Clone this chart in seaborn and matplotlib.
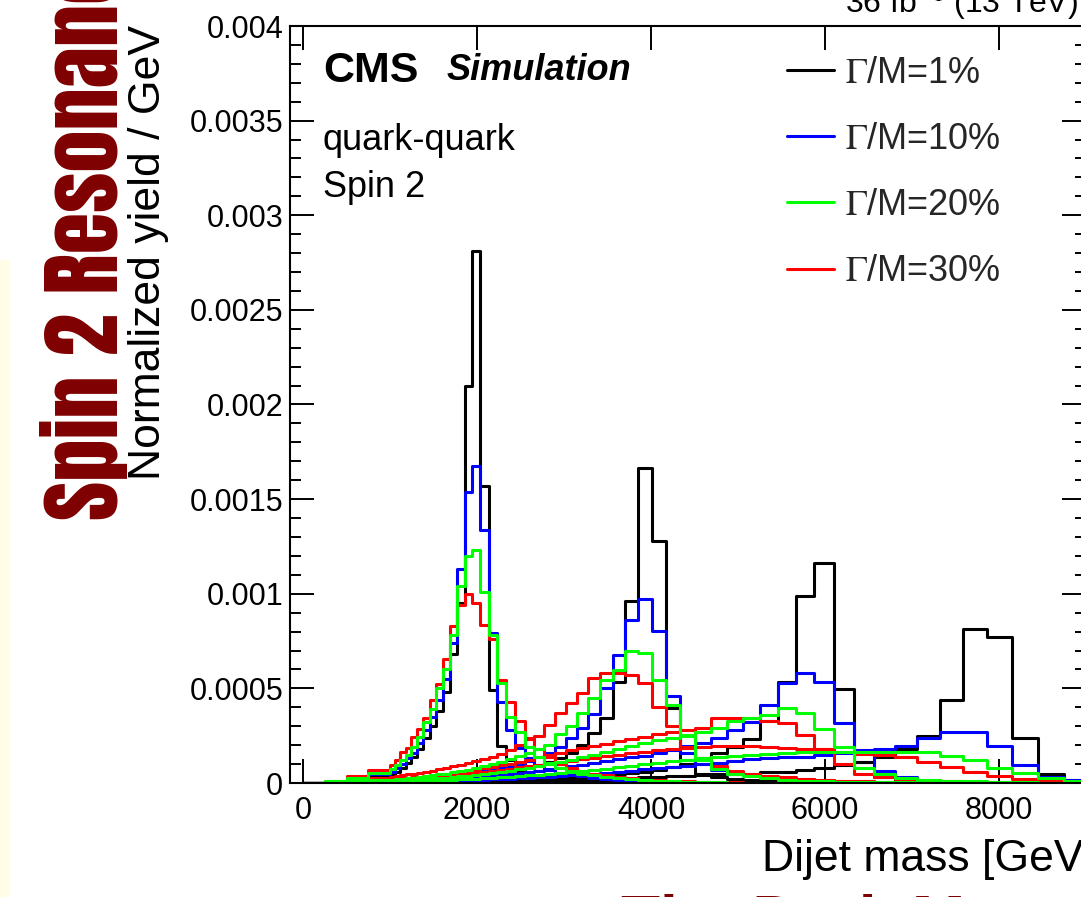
import matplotlib
matplotlib.use("Agg")
import matplotlib.pyplot as plt
import pandas as pd
import seaborn as sns
from matplotlib.lines import Line2D
from matplotlib.patches import Rectangle
from matplotlib.ticker import FixedFormatter, FixedLocator, MultipleLocator

# ---------------------------------------------------------------------------
# Data
# ---------------------------------------------------------------------------

# dijet-mass bin edges in GeV (CMS dijet binning; below 1 TeV merged)
MASS_EDGES = [0, 250, 500, 750, 1000, 1058, 1118, 1181, 1246, 1313, 1383, 1455,
              1530, 1607, 1687, 1770, 1856, 1945, 2037, 2132, 2231, 2332, 2438,
              2546, 2659, 2775, 2895, 3019, 3147, 3279, 3416, 3558, 3704, 3854,
              4010, 4171, 4337, 4509, 4686, 4869, 5058, 5253, 5455, 5663, 5877,
              6099, 6328, 6564, 6808, 7060, 7320, 7589, 7866, 8152, 8447, 8752,
              9067, 9391]

RESONANCE_MASSES = [2000, 4000, 6000, 8000]
WIDTHS = [1, 10, 20, 30]
WIDTH_LABELS = [r"$\Gamma$/M=1%", r"$\Gamma$/M=10%", r"$\Gamma$/M=20%", r"$\Gamma$/M=30%"]
WIDTH_COLORS = ["#000000", "#0000ff", "#00ff00", "#ff0000"]

# normalized yield per bin, in units of 1e-4 / GeV
M2000_W1 = [0.01, 0.05, 0.17, 0.35,
            0.45, 0.6, 0.8, 1.05, 1.35, 1.8, 2.4, 3.0, 3.8, 4.8, 6.8, 9.5,
            21.0, 28.1, 15.7, 4.9, 1.95, 1.2, 0.45, 0.3, 0.22, 0.17, 0.13,
            0.1, 0.08, 0.06, 0.05, 0.04, 0.03, 0.02, 0.02, 0.01, 0.01,
            0.01, 0, 0, 0, 0, 0, 0, 0, 0, 0,
            0, 0, 0, 0, 0, 0, 0, 0, 0, 0]
M2000_W10 = [0.01, 0.06, 0.22, 0.45,
             0.6, 0.8, 1.0, 1.3, 1.6, 2.1, 2.8, 3.5, 4.4, 5.5, 7.4, 11.3,
             15.4, 16.75, 13.35, 7.9, 4.3, 2.8, 1.85, 1.3, 0.95, 0.7, 0.55,
             0.45, 0.35, 0.28, 0.22, 0.17, 0.13, 0.1, 0.07, 0.05, 0.04,
             0.03, 0.02, 0.02, 0.01, 0.01, 0, 0, 0, 0, 0,
             0, 0, 0, 0, 0, 0, 0, 0, 0, 0]
M2000_W20 = [0.02, 0.08, 0.28, 0.55,
             0.75, 0.95, 1.2, 1.5, 1.9, 2.45, 3.2, 3.9, 5.0, 6.0, 7.8, 10.4,
             12.0, 12.3, 10.1, 7.8, 5.3, 3.5, 2.7, 1.9, 1.4, 1.05, 0.8,
             0.62, 0.5, 0.4, 0.32, 0.25, 0.2, 0.15, 0.11, 0.08, 0.06,
             0.04, 0.03, 0.02, 0.01, 0.01, 0, 0, 0, 0, 0,
             0, 0, 0, 0, 0, 0, 0, 0, 0, 0]
M2000_W30 = [0.02, 0.1, 0.35, 0.7,
             0.96, 1.22, 1.66, 1.83, 2.45, 2.84, 3.42, 4.39, 5.22, 6.56, 8.3, 9.4,
             10.0, 9.5, 8.35, 7.6, 5.45, 4.3, 3.25, 2.4, 1.8, 1.35, 1.0,
             0.8, 0.62, 0.5, 0.4, 0.3, 0.24, 0.18, 0.14, 0.1, 0.08,
             0.06, 0.04, 0.03, 0.02, 0.01, 0, 0, 0, 0, 0,
             0, 0, 0, 0, 0, 0, 0, 0, 0, 0]

M4000_W1 = [0, 0.01, 0.03, 0.06,
            0.08, 0.09, 0.1, 0.11, 0.12, 0.13, 0.15, 0.17, 0.19, 0.21, 0.24, 0.27,
            0.3, 0.34, 0.38, 0.43, 0.5, 0.58, 0.68, 0.8, 0.95, 1.1, 1.3,
            1.57, 2.0, 2.63, 3.42, 5.36, 9.6, 16.65, 12.77, 3.95, 1.2,
            0.5, 0.3, 0.2, 0.15, 0.1, 0.08, 0.06, 0.05, 0.04, 0.03,
            0.02, 0.02, 0.01, 0.01, 0, 0, 0, 0, 0, 0]
M4000_W10 = [0.01, 0.02, 0.05, 0.1,
             0.12, 0.14, 0.16, 0.18, 0.2, 0.22, 0.25, 0.28, 0.32, 0.36, 0.4, 0.45,
             0.5, 0.56, 0.63, 0.7, 0.8, 0.9, 1.0, 1.15, 1.35, 1.6, 1.92,
             2.36, 2.9, 3.65, 5.0, 6.77, 8.62, 9.73, 8.04, 4.6, 1.6,
             1.0, 0.7, 0.5, 0.4, 0.3, 0.25, 0.2, 0.15, 0.1, 0.08,
             0.06, 0.05, 0.04, 0.03, 0.02, 0.01, 0.01, 0, 0, 0]
M4000_W20 = [0.01, 0.03, 0.08, 0.15,
             0.18, 0.2, 0.23, 0.26, 0.29, 0.32, 0.36, 0.4, 0.45, 0.5, 0.56, 0.62,
             0.7, 0.78, 0.88, 1.0, 1.12, 1.26, 1.42, 1.6, 1.8, 2.0, 2.6,
             3.0, 3.7, 4.5, 5.45, 5.98, 7.0, 6.86, 5.45, 4.1, 2.5,
             1.2, 0.75, 0.5, 0.35, 0.25, 0.18, 0.13, 0.1, 0.07, 0.05,
             0.04, 0.03, 0.02, 0.01, 0.01, 0, 0, 0, 0, 0]
M4000_W30 = [0.02, 0.06, 0.15, 0.28,
             0.32, 0.36, 0.4, 0.45, 0.5, 0.55, 0.6, 0.66, 0.72, 0.8, 0.88, 0.96,
             1.05, 1.15, 1.27, 1.4, 1.55, 1.75, 2.0, 2.3, 2.5, 3.05, 3.7,
             4.21, 4.78, 5.54, 5.8, 5.8, 5.7, 5.3, 4.04, 3.0, 1.9,
             1.3, 0.9, 0.65, 0.5, 0.38, 0.3, 0.22, 0.17, 0.12, 0.09,
             0.07, 0.05, 0.04, 0.03, 0.02, 0.01, 0.01, 0, 0, 0]

M6000_W1 = [0, 0.01, 0.02, 0.04,
            0.05, 0.05, 0.06, 0.06, 0.07, 0.07, 0.08, 0.08, 0.09, 0.09, 0.1, 0.1,
            0.11, 0.12, 0.13, 0.14, 0.15, 0.16, 0.18, 0.2, 0.22, 0.24, 0.27,
            0.3, 0.33, 0.37, 0.41, 0.46, 0.52, 0.6, 0.7, 0.82, 1.0,
            1.3, 1.6, 1.9, 2.35, 3.3, 5.36, 9.86, 11.6, 4.96, 1.13,
            0.3, 0.12, 0.06, 0.04, 0.03, 0.02, 0.01, 0.01, 0, 0]
M6000_W10 = [0.01, 0.02, 0.04, 0.07,
             0.09, 0.1, 0.11, 0.12, 0.13, 0.14, 0.16, 0.17, 0.19, 0.21, 0.23, 0.25,
             0.28, 0.31, 0.34, 0.38, 0.42, 0.47, 0.52, 0.58, 0.65, 0.72, 0.8,
             0.88, 0.97, 1.06, 1.15, 1.25, 1.35, 1.45, 1.6, 1.75, 1.95,
             2.1, 2.36, 2.8, 3.2, 4.1, 5.27, 5.8, 5.36, 3.16, 1.74,
             0.65, 0.3, 0.15, 0.1, 0.07, 0.05, 0.03, 0.02, 0.01, 0]
M6000_W20 = [0.01, 0.03, 0.06, 0.1,
             0.12, 0.13, 0.15, 0.16, 0.18, 0.2, 0.22, 0.24, 0.26, 0.29, 0.32, 0.35,
             0.39, 0.43, 0.48, 0.53, 0.59, 0.66, 0.73, 0.81, 0.9, 1.0, 1.1,
             1.22, 1.35, 1.48, 1.62, 1.78, 1.95, 2.1, 2.25, 2.4, 2.55,
             2.7, 2.9, 3.3, 3.45, 3.6, 3.95, 3.69, 2.84, 1.92, 0.8,
             0.45, 0.28, 0.18, 0.12, 0.08, 0.05, 0.03, 0.02, 0.01, 0]
M6000_W30 = [0.01, 0.04, 0.1, 0.17,
             0.2, 0.22, 0.24, 0.27, 0.3, 0.33, 0.36, 0.4, 0.44, 0.48, 0.53, 0.58,
             0.64, 0.7, 0.77, 0.85, 0.94, 1.03, 1.13, 1.24, 1.36, 1.48, 1.6,
             1.72, 1.84, 1.96, 2.08, 2.2, 2.32, 2.45, 2.6, 2.7, 2.8,
             2.9, 3.42, 3.42, 3.42, 3.3, 3.16, 2.54, 1.8, 1.0, 0.5,
             0.3, 0.2, 0.13, 0.09, 0.06, 0.04, 0.03, 0.02, 0.01, 0]

M8000_W1 = [0, 0.01, 0.02, 0.03,
            0.03, 0.03, 0.04, 0.04, 0.04, 0.05, 0.05, 0.05, 0.06, 0.06, 0.07, 0.07,
            0.08, 0.08, 0.09, 0.1, 0.1, 0.11, 0.12, 0.13, 0.14, 0.15, 0.16,
            0.18, 0.2, 0.22, 0.24, 0.26, 0.28, 0.3, 0.33, 0.36, 0.39,
            0.42, 0.46, 0.5, 0.5, 0.6, 0.6, 0.67, 0.78, 0.95, 1.13,
            1.39, 1.78, 2.49, 4.4, 8.13, 7.7, 2.36, 0.48, 0.16, 0.05]
M8000_W10 = [0, 0.01, 0.03, 0.05,
             0.06, 0.06, 0.07, 0.07, 0.08, 0.08, 0.09, 0.1, 0.1, 0.11, 0.12, 0.13,
             0.14, 0.15, 0.17, 0.19, 0.21, 0.23, 0.25, 0.28, 0.31, 0.34, 0.38,
             0.42, 0.46, 0.5, 0.55, 0.6, 0.66, 0.72, 0.78, 0.85, 0.92,
             1.0, 1.08, 1.17, 1.25, 1.3, 1.35, 1.4, 1.5, 1.6, 1.7,
             1.78, 1.94, 2.38, 2.72, 2.72, 1.96, 0.95, 0.32, 0.16, 0.08]
M8000_W20 = [0.01, 0.02, 0.04, 0.07,
             0.08, 0.09, 0.1, 0.1, 0.11, 0.12, 0.13, 0.14, 0.15, 0.16, 0.17, 0.19,
             0.2, 0.22, 0.24, 0.27, 0.3, 0.33, 0.36, 0.4, 0.44, 0.48, 0.53,
             0.58, 0.64, 0.7, 0.76, 0.83, 0.9, 0.98, 1.06, 1.14, 1.22,
             1.3, 1.38, 1.45, 1.5, 1.55, 1.6, 1.63, 1.65, 1.66, 1.66,
             1.66, 1.66, 1.66, 1.43, 1.2, 0.78, 0.53, 0.26, 0.1, 0.05]
M8000_W30 = [0.01, 0.04, 0.09, 0.15,
             0.18, 0.2, 0.22, 0.24, 0.26, 0.29, 0.32, 0.35, 0.38, 0.41, 0.44, 0.48,
             0.52, 0.56, 0.6, 0.65, 0.7, 0.76, 0.82, 0.88, 0.95, 1.02, 1.1,
             1.18, 1.26, 1.34, 1.42, 1.5, 1.58, 1.65, 1.72, 1.78, 1.84,
             1.9, 1.96, 1.96, 1.96, 1.9, 1.85, 1.8, 1.78, 1.65, 1.55,
             1.5, 1.4, 1.1, 0.85, 0.57, 0.38, 0.22, 0.12, 0.05, 0.02]

YIELDS = {
    (2000, 1): M2000_W1, (2000, 10): M2000_W10, (2000, 20): M2000_W20, (2000, 30): M2000_W30,
    (4000, 1): M4000_W1, (4000, 10): M4000_W10, (4000, 20): M4000_W20, (4000, 30): M4000_W30,
    (6000, 1): M6000_W1, (6000, 10): M6000_W10, (6000, 20): M6000_W20, (6000, 30): M6000_W30,
    (8000, 1): M8000_W1, (8000, 10): M8000_W10, (8000, 20): M8000_W20, (8000, 30): M8000_W30,
}

X_TICKS = [0, 2000, 4000, 6000, 8000]
X_TICK_LABELS = ["0", "2000", "4000", "6000", "8000"]
Y_TICKS = [0, 0.0005, 0.001, 0.0015, 0.002, 0.0025, 0.003, 0.0035, 0.004]
Y_TICK_LABELS = ["0", "0.0005", "0.001", "0.0015", "0.002", "0.0025", "0.003", "0.0035", "0.004"]

# ---------------------------------------------------------------------------
# long-form table
# ---------------------------------------------------------------------------
centers = [(lo + hi) / 2 for lo, hi in zip(MASS_EDGES[:-1], MASS_EDGES[1:])]
rows = []
for (mass, width), values in YIELDS.items():
    assert len(values) == len(centers), (mass, width, len(values))
    for c, v in zip(centers, values):
        rows.append((mass, width, c, v * 1e-4))
df = pd.DataFrame(rows, columns=["mass", "width", "mjj", "yield"])

# ---------------------------------------------------------------------------
# figure
# ---------------------------------------------------------------------------
sns.set_theme(style="ticks")
plt.rcParams["font.family"] = ["Liberation Sans", "DejaVu Sans"]
plt.rcParams["mathtext.fontset"] = "stix"

W, H = 1081, 897
fig = plt.figure(figsize=(W / 100, H / 100), dpi=100)
fig.patch.set_facecolor("white")
ax = fig.add_axes([290 / W, (H - 783) / H, (1086 - 290) / W, (783 - 26) / H])
ax.set_facecolor("white")

color_of = dict(zip(WIDTHS, WIDTH_COLORS))
for width in [1, 10, 30, 20]:
    for mass in RESONANCE_MASSES:
        sub = df[(df["mass"] == mass) & (df["width"] == width)]
        sns.histplot(data=sub, x="mjj", weights="yield", bins=MASS_EDGES,
                     element="step", fill=False, color=color_of[width],
                     linewidth=2.2, ax=ax)

ax.set_xlim(-150, 9000)
ax.set_ylim(0, 0.004)
ax.xaxis.set_major_locator(FixedLocator(X_TICKS))
ax.xaxis.set_major_formatter(FixedFormatter(X_TICK_LABELS))
ax.yaxis.set_major_locator(FixedLocator(Y_TICKS))
ax.yaxis.set_major_formatter(FixedFormatter(Y_TICK_LABELS))
ax.yaxis.set_minor_locator(MultipleLocator(0.0001))
ax.tick_params(which="both", direction="in", top=True, right=True,
               width=1.4, color="black", labelsize=22, labelcolor="black")
ax.tick_params(which="major", length=17)
ax.tick_params(which="minor", length=8)
ax.tick_params(axis="x", pad=9)
ax.tick_params(axis="y", pad=5)
for sp in ax.spines.values():
    sp.set_linewidth(1.5)
    sp.set_color("black")

ax.set_xlabel("Dijet mass [GeV]", fontsize=32, color="black")
ax.xaxis.set_label_coords(1.012, -0.074)
ax.xaxis.label.set_horizontalalignment("right")
ax.set_ylabel("Normalized yield / GeV", fontsize=32, color="black")
ax.yaxis.set_label_coords(-0.152, 1.001)
ax.yaxis.label.set_horizontalalignment("right")

# legend
handles = [Line2D([], [], color=c, linewidth=2.2) for c in WIDTH_COLORS]
ax.legend(handles, WIDTH_LABELS, loc="upper left",
          bbox_to_anchor=(787 / W, 1 - 56 / H), bbox_transform=fig.transFigure,
          frameon=False, fontsize=26, handlelength=1.3, handletextpad=0.3,
          labelspacing=0.86, borderpad=0, borderaxespad=0)

# CMS labels
fig.text(323 / W, 1 - 82 / H, "CMS", fontsize=31, fontweight="bold", color="black")
fig.text(447 / W, 1 - 80 / H, "Simulation", fontsize=26, fontweight="bold",
         fontstyle="italic", color="black")
fig.text(323 / W, 1 - 150 / H, "quark-quark", fontsize=26, color="black")
fig.text(323 / W, 1 - 197 / H, "Spin 2", fontsize=26, color="black")
fig.text(1078 / W, 1 - 13 / H, r"36 fb$^{-1}$ (13 TeV)", fontsize=23,
         ha="right", va="baseline", color="black")

# page decorations around the crop
fig.patches.append(Rectangle((0, 0), 10 / W, (H - 260) / H, transform=fig.transFigure,
                             facecolor="#fffde6", edgecolor="none"))
fig.text(118 / W, 1 - 520 / H, "Spin 2 Resonances", rotation=90,
         rotation_mode="anchor", ha="left", va="baseline", fontsize=61,
         family=["Anton", "Oswald", "Bebas Neue", "DejaVu Sans"], color="#7f0000",
         zorder=0)
fig.text(621 / W, 1 - 893 / H, "The Dark Matter", fontsize=46, fontweight="bold",
         va="top", color="#7f0000")

fig.savefig("out.png", dpi=100)
